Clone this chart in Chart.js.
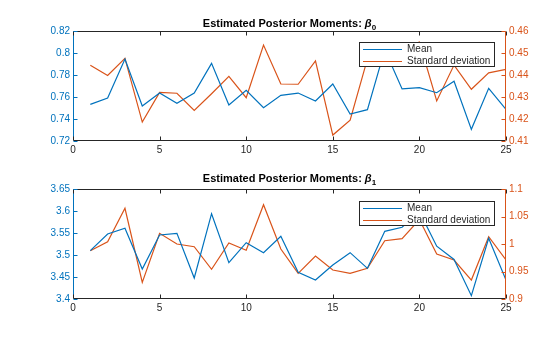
<!DOCTYPE html>
<html><head><meta charset="utf-8">
<script src="https://cdn.jsdelivr.net/npm/chart.js@4.4.1/dist/chart.umd.min.js"></script>
<style>
html,body{margin:0;padding:0;background:#fff;width:560px;height:337px;overflow:hidden}
canvas{position:absolute;left:0}
#c1{top:0}
#c2{top:168px}
</style></head>
<body>
<canvas id="c1" width="560" height="168"></canvas>
<canvas id="c2" width="560" height="169"></canvas>
<script>
const xs = [1,2,3,4,5,6,7,8,9,10,11,12,13,14,15,16,17,18,19,20,21,22,23,24,25];
const meanB0 = [0.7533,0.7591,0.7945,0.7518,0.7636,0.7542,0.7636,0.7906,0.7527,0.766,0.7503,0.7615,0.7636,0.7564,0.7718,0.7445,0.7485,0.803,0.7673,0.7685,0.7639,0.7743,0.7306,0.7679,0.7488];
const sdB0 = [0.4444,0.4398,0.4476,0.4186,0.4321,0.4317,0.4239,0.4315,0.4394,0.4297,0.4536,0.4359,0.4358,0.4464,0.4127,0.4195,0.4473,0.450,0.452,0.455,0.4282,0.4445,0.4335,0.441,0.4426];
const meanB1 = [3.5098,3.5477,3.5607,3.4682,3.5455,3.5492,3.4477,3.5939,3.4826,3.528,3.5053,3.5424,3.4606,3.4432,3.4773,3.5053,3.4697,3.5538,3.563,3.599,3.52,3.49,3.4075,3.538,3.4432];
const sdB1 = [0.9878,1.0042,1.0649,0.9303,1.0194,1.0,0.9951,0.954,1.0018,0.9885,1.0715,0.9909,0.9467,0.9782,0.9527,0.9467,0.9558,1.006,1.0097,1.0445,0.9818,0.9709,0.9345,1.0133,0.9709];
const xTicks = [0,5,10,15,20,25];
const b0MeanTicks = [0.72,0.74,0.76,0.78,0.8,0.82];
const b0SdTicks = [0.41,0.42,0.43,0.44,0.45,0.46];
const b1MeanTicks = [3.4,3.45,3.5,3.55,3.6,3.65];
const b1SdTicks = [0.9,0.95,1,1.05,1.1];
const seriesNames = ['Mean','Standard deviation'];
const titleText = 'Estimated Posterior Moments: ';
const subs = ['0','1'];

const FAMILY = '"Liberation Sans", Arial, Helvetica, sans-serif';
const BLUE = '#0072BD', ORANGE = '#D95319', DARK = '#262626';

function yScale(pos, ticks, color, w){
  return {
    type:'linear', position:pos, min:ticks[0], max:ticks[ticks.length-1],
    afterBuildTicks: s => { s.ticks = ticks.map(v => ({value:v})); },
    afterFit: s => { s.width = w; },
    grid:{display:false, drawTicks:false}, border:{display:false},
    ticks:{color:color, font:{family:FAMILY, size:10}, padding:3, autoSkip:false, callback:v => String(v)}
  };
}
function xScale(h){
  return {
    type:'linear', min:xTicks[0], max:xTicks[xTicks.length-1],
    afterBuildTicks: s => { s.ticks = xTicks.map(v => ({value:v})); },
    afterFit: s => { s.height = h; },
    grid:{display:false, drawTicks:false}, border:{display:false},
    ticks:{color:DARK, font:{family:FAMILY, size:10}, padding:3, autoSkip:false, maxRotation:0, callback:v => String(v)}
  };
}

const framePlugin = {
  id:'frame',
  afterDatasetsDraw(chart){
    const {ctx, chartArea:a, scales} = chart;
    const L = Math.round(a.left)+0.5, R = Math.round(a.right)-0.5, T = Math.round(a.top)+0.5, B = Math.round(a.bottom)-0.5;
    ctx.save();
    ctx.lineWidth = 1;
    function line(x1,y1,x2,y2,c){ ctx.strokeStyle=c; ctx.beginPath(); ctx.moveTo(x1,y1); ctx.lineTo(x2,y2); ctx.stroke(); }
    line(L,B,R,B,DARK); line(L,T,R,T,DARK);
    line(L,T,L,B,BLUE); line(R,T,R,B,ORANGE);
    const tl = 4;
    xTicks.forEach(v => { const x = Math.round(scales.x.getPixelForValue(v))+0.5; line(x,B,x,B-tl,DARK); line(x,T,x,T+tl,DARK); });
    scales.y.ticks.forEach(t => { const y = Math.round(scales.y.getPixelForValue(t.value))+0.5; line(L,y,L+tl,y,BLUE); });
    scales.y1.ticks.forEach(t => { const y = Math.round(scales.y1.getPixelForValue(t.value))+0.5; line(R,y,R-tl,y,ORANGE); });
    ctx.restore();
  },
  afterDraw(chart){
    const {ctx, chartArea:a} = chart;
    const o = chart.options.plugins.frame;
    ctx.save();
    ctx.fillStyle = '#000';
    ctx.textBaseline = 'alphabetic';
    const f1 = 'bold 11px '+FAMILY, f2 = 'italic bold 11px '+FAMILY, f3 = 'bold 8px '+FAMILY;
    ctx.font = f1; const w1 = ctx.measureText(titleText).width;
    ctx.font = f2; const w2 = ctx.measureText('β').width;
    ctx.font = f3; const w3 = ctx.measureText(o.sub).width;
    let x = (a.left + a.right)/2 - (w1+w2+w3)/2;
    const by = o.titleBase;
    ctx.font = f1; ctx.fillText(titleText, x, by); x += w1;
    ctx.font = f2; ctx.fillText('β', x, by); x += w2;
    ctx.font = f3; ctx.fillText(o.sub, x, by+3);
    const bw = 135, bh = 24;
    const bl = Math.round(a.right - 12 - bw)+0.5, bt = Math.round(a.top + o.legTop)+0.5;
    ctx.fillStyle = '#fff'; ctx.fillRect(bl, bt, bw, bh);
    ctx.strokeStyle = DARK; ctx.lineWidth = 1; ctx.strokeRect(bl, bt, bw, bh);
    ctx.font = '10px '+FAMILY; ctx.textBaseline = 'middle';
    [[BLUE, seriesNames[0], 6.5],[ORANGE, seriesNames[1], 18.3]].forEach(([c,t,dy]) => {
      const y = Math.round(bt + dy)+0.5;
      ctx.strokeStyle = c; ctx.lineWidth = 1.2;
      ctx.beginPath(); ctx.moveTo(bl+3.5, y); ctx.lineTo(bl+42.5, y); ctx.stroke();
      ctx.fillStyle = DARK; ctx.fillText(t, bl+47.5, bt+dy+0.5);
    });
    ctx.restore();
  }
};

function makeChart(id, mean, sd, lt, rt, padTop, xh, sub, titleBase, legTop){
  return new Chart(document.getElementById(id), {
    type:'line',
    data:{ datasets:[
      {label:seriesNames[0], data:xs.map((x,i)=>({x:x, y:mean[i]})), yAxisID:'y', borderColor:BLUE, borderWidth:1.2, pointRadius:0, tension:0, fill:false},
      {label:seriesNames[1], data:xs.map((x,i)=>({x:x, y:sd[i]})), yAxisID:'y1', borderColor:ORANGE, borderWidth:1.2, pointRadius:0, tension:0, fill:false}
    ]},
    options:{
      responsive:false, animation:false, devicePixelRatio:1,
      layout:{padding:{top:padTop, left:0, right:0, bottom:0}},
      plugins:{legend:{display:false}, title:{display:false}, tooltip:{enabled:false}, frame:{sub:sub, titleBase:titleBase, legTop:legTop}},
      scales:{
        x: xScale(xh),
        y: yScale('left', lt, BLUE, 73),
        y1: yScale('right', rt, ORANGE, 54)
      }
    },
    plugins:[framePlugin]
  });
}
makeChart('c1', meanB0, sdB0, b0MeanTicks, b0SdTicks, 31, 27, subs[0], 27.3, 10.5);
makeChart('c2', meanB1, sdB1, b1MeanTicks, b1SdTicks, 21, 38, subs[1], 13.7, 12);
</script>
</body></html>
